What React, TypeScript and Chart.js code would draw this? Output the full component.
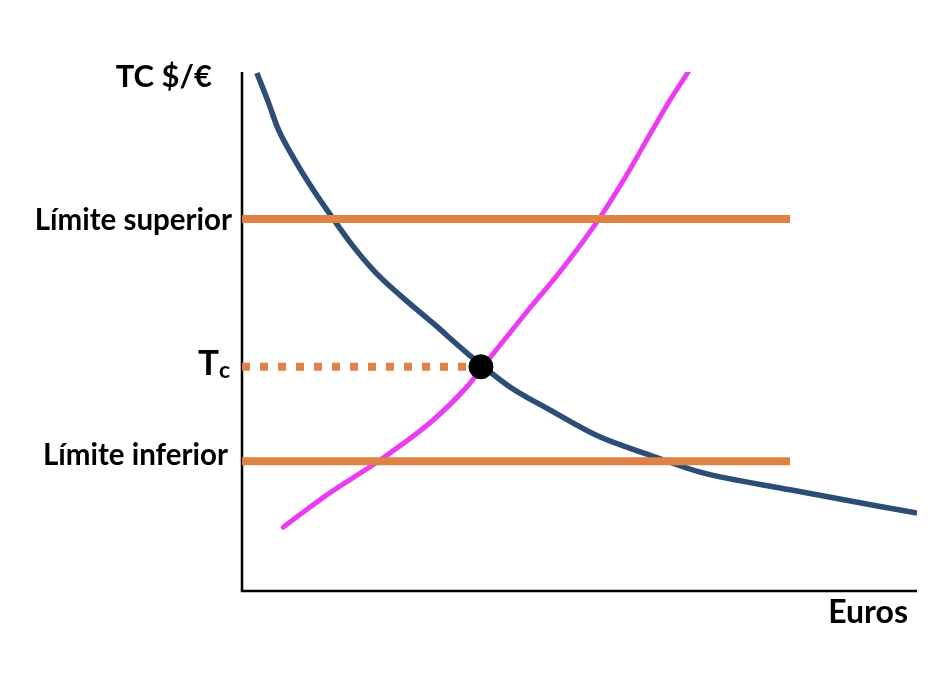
import React, { useEffect, useRef } from "react";
import { Chart, registerables } from "chart.js";

Chart.register(...registerables);

// Curve A (dark blue, downward sloping)
const blueX = [2.2, 3.9, 5.3, 7.4, 10.4, 13.3, 16.3, 19.7, 23.4, 28.3, 33.3, 39.7, 45.6, 53.0, 60.4, 67.9, 81.2, 100];
const blueY = [99.8, 94.2, 89.2, 84.0, 77.6, 72.1, 66.7, 61.5, 57.0, 51.6, 45.9, 39.3, 34.9, 29.7, 26.2, 22.9, 19.5, 15.0];
// Curve B (magenta, upward sloping)
const pinkX = [6.1, 13.0, 20.4, 28.3, 33.3, 36.7, 42.2, 47.1, 53.0, 57.0, 60.7, 63.6, 66.1];
const pinkY = [12.3, 18.9, 25.2, 32.9, 39.3, 44.9, 53.8, 61.5, 71.9, 80.2, 88.6, 95.0, 100];
// Horizontal levels
const upperLimit = 71.7;
const lowerLimit = 25.0;
const limitEndX = 81.2;
const tcX = 35.4;
const tcY = 43.2;
// Text labels
const yTitle = "TC $/€";
const xTitle = "Euros";
const upperLabel = "Límite superior";
const lowerLabel = "Límite inferior";
const tcMain = "T";
const tcSub = "c";

const FONT = "Lato, 'Open Sans', sans-serif";

const pts = (xs: number[], ys: number[]) => xs.map((x, i) => ({ x, y: ys[i] }));

export default function App() {
  const ref = useRef<HTMLCanvasElement | null>(null);
  useEffect(() => {
    if (!ref.current) return;
    const orange = "#E08244";
    const annot = {
      id: "annot",
      beforeDatasetsDraw(chart: any) {
        const { ctx, chartArea } = chart;
        ctx.save();
        ctx.strokeStyle = "#000";
        ctx.lineWidth = 2.5;
        ctx.beginPath();
        ctx.moveTo(chartArea.left, chartArea.top);
        ctx.lineTo(chartArea.left, chartArea.bottom);
        ctx.lineTo(chartArea.right, chartArea.bottom);
        ctx.stroke();
        ctx.restore();
      },
      afterDraw(chart: any) {
        const { ctx, chartArea, scales } = chart;
        const y = scales.y;
        ctx.save();
        ctx.fillStyle = "#000";
        ctx.textAlign = "right";
        ctx.textBaseline = "alphabetic";
        ctx.font = `bold 31px ${FONT}`;
        ctx.fillText(yTitle, chartArea.left - 30, chartArea.top + 15);
        ctx.font = `bold 32px ${FONT}`;
        ctx.fillText(xTitle, chartArea.right - 9, chartArea.bottom + 32);
        ctx.font = `bold 29.5px ${FONT}`;
        ctx.fillText(upperLabel, chartArea.left - 10, y.getPixelForValue(upperLimit) + 11);
        ctx.fillText(lowerLabel, chartArea.left - 14, y.getPixelForValue(lowerLimit) + 4);
        const ty = y.getPixelForValue(tcY) + 8;
        ctx.font = `bold 23px ${FONT}`;
        const subW = ctx.measureText(tcSub).width;
        ctx.fillText(tcSub, chartArea.left - 12, ty + 3);
        ctx.font = `bold 35px ${FONT}`;
        ctx.fillText(tcMain, chartArea.left - 12 - subW, ty);
        ctx.restore();
      },
    };
    const chart = new Chart(ref.current, {
      type: "scatter",
      data: {
        datasets: [
          {
            data: [{ x: tcX, y: tcY }],
            backgroundColor: "#000",
            borderColor: "#000",
            pointRadius: 12,
            order: 0,
          },
          {
            data: [{ x: 0, y: tcY }, { x: tcX, y: tcY }],
            showLine: true,
            borderColor: orange,
            borderWidth: 8,
            borderDash: [8, 10],
            borderCapStyle: "butt",
            pointRadius: 0,
            order: 1,
          },
          {
            data: [{ x: 0, y: upperLimit }, { x: limitEndX, y: upperLimit }],
            showLine: true,
            borderColor: orange,
            borderWidth: 8,
            borderCapStyle: "butt",
            pointRadius: 0,
            order: 1,
          },
          {
            data: [{ x: 0, y: lowerLimit }, { x: limitEndX, y: lowerLimit }],
            showLine: true,
            borderColor: orange,
            borderWidth: 8,
            borderCapStyle: "butt",
            pointRadius: 0,
            order: 1,
          },
          {
            data: pts(blueX, blueY),
            showLine: true,
            borderColor: "#2C4D75",
            borderWidth: 5.5,
            cubicInterpolationMode: "monotone",
            pointRadius: 0,
            order: 2,
          },
          {
            data: pts(pinkX, pinkY),
            showLine: true,
            borderColor: "#EB3CF2",
            borderWidth: 5,
            borderCapStyle: "round",
            cubicInterpolationMode: "monotone",
            pointRadius: 0,
            order: 3,
          },
        ],
      } as any,
      options: {
        animation: false,
        responsive: false,
        maintainAspectRatio: false,
        layout: { padding: { left: 242, right: 15, top: 72, bottom: 85 } },
        plugins: { legend: { display: false }, tooltip: { enabled: false } },
        scales: {
          x: { type: "linear", min: 0, max: 100, display: false },
          y: { type: "linear", min: 0, max: 100, display: false },
        },
      } as any,
      plugins: [annot],
    });
    return () => chart.destroy();
  }, []);
  return (
    <div style={{ position: "fixed", left: 0, top: 0, width: 932, height: 676, background: "#fff" }}>
      <canvas ref={ref} width={932} height={676} style={{ width: 932, height: 676 }} />
    </div>
  );
}
